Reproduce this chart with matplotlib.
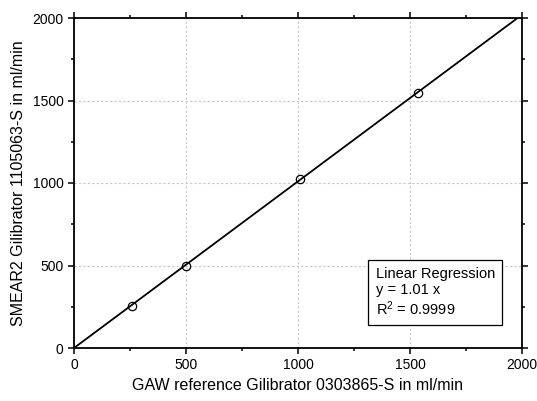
import numpy as np
import matplotlib
matplotlib.use("Agg")
import matplotlib.pyplot as plt
from matplotlib.ticker import MultipleLocator

plt.rcParams["font.family"] = ["Liberation Sans", "DejaVu Sans"]
plt.rcParams["mathtext.fontset"] = "custom"
plt.rcParams["mathtext.rm"] = "Liberation Sans"
plt.rcParams["mathtext.it"] = "Liberation Sans:italic"

# reference vs SMEAR2 flow readings (ml/min)
gaw_ref = np.array([257, 498, 1009, 1534])
smear2 = np.array([255, 499, 1026, 1547])
slope = 1.01
fit_x = np.array([0, 2000])

fig = plt.figure(figsize=(5.37, 4.01), dpi=100)
ax = fig.add_axes([74 / 537, 1 - 348 / 401, 448 / 537, 330 / 401])

ax.plot(fit_x, slope * fit_x, color="black", lw=1.3, zorder=3)
ax.plot(gaw_ref, smear2, "o", mfc="none", mec="black", ms=6, mew=0.9, zorder=4)

ax.set_xlim(0, 2000)
ax.set_ylim(0, 2000)
ax.xaxis.set_major_locator(MultipleLocator(500))
ax.yaxis.set_major_locator(MultipleLocator(500))
ax.xaxis.set_minor_locator(MultipleLocator(250))
ax.yaxis.set_minor_locator(MultipleLocator(250))
ax.tick_params(which="both", direction="out", top=True, right=True,
               labelsize=10, width=1.1, pad=3)
ax.tick_params(which="major", length=4.5)
ax.tick_params(which="minor", length=2.5)
for s in ax.spines.values():
    s.set_linewidth(1.3)

ax.grid(True, which="major", color="#c8c8c8", lw=0.8, ls=(0, (2, 2)))
ax.set_axisbelow(True)

ax.set_xlabel("GAW reference Gilibrator 0303865-S in ml/min", fontsize=11.5, labelpad=4)
ax.set_ylabel("SMEAR2 Gilibrator 1105063-S in ml/min", fontsize=11.5, labelpad=5)

ax.text(0.673, 0.245, "Linear Regression\ny = 1.01 x\nR$^2$ = 0.9999",
        transform=ax.transAxes, fontsize=10.5, va="top", ha="left",
        linespacing=1.15,
        bbox=dict(boxstyle="square,pad=0.5", fc="white", ec="black", lw=0.9))

fig.savefig("out.png", dpi=100)
